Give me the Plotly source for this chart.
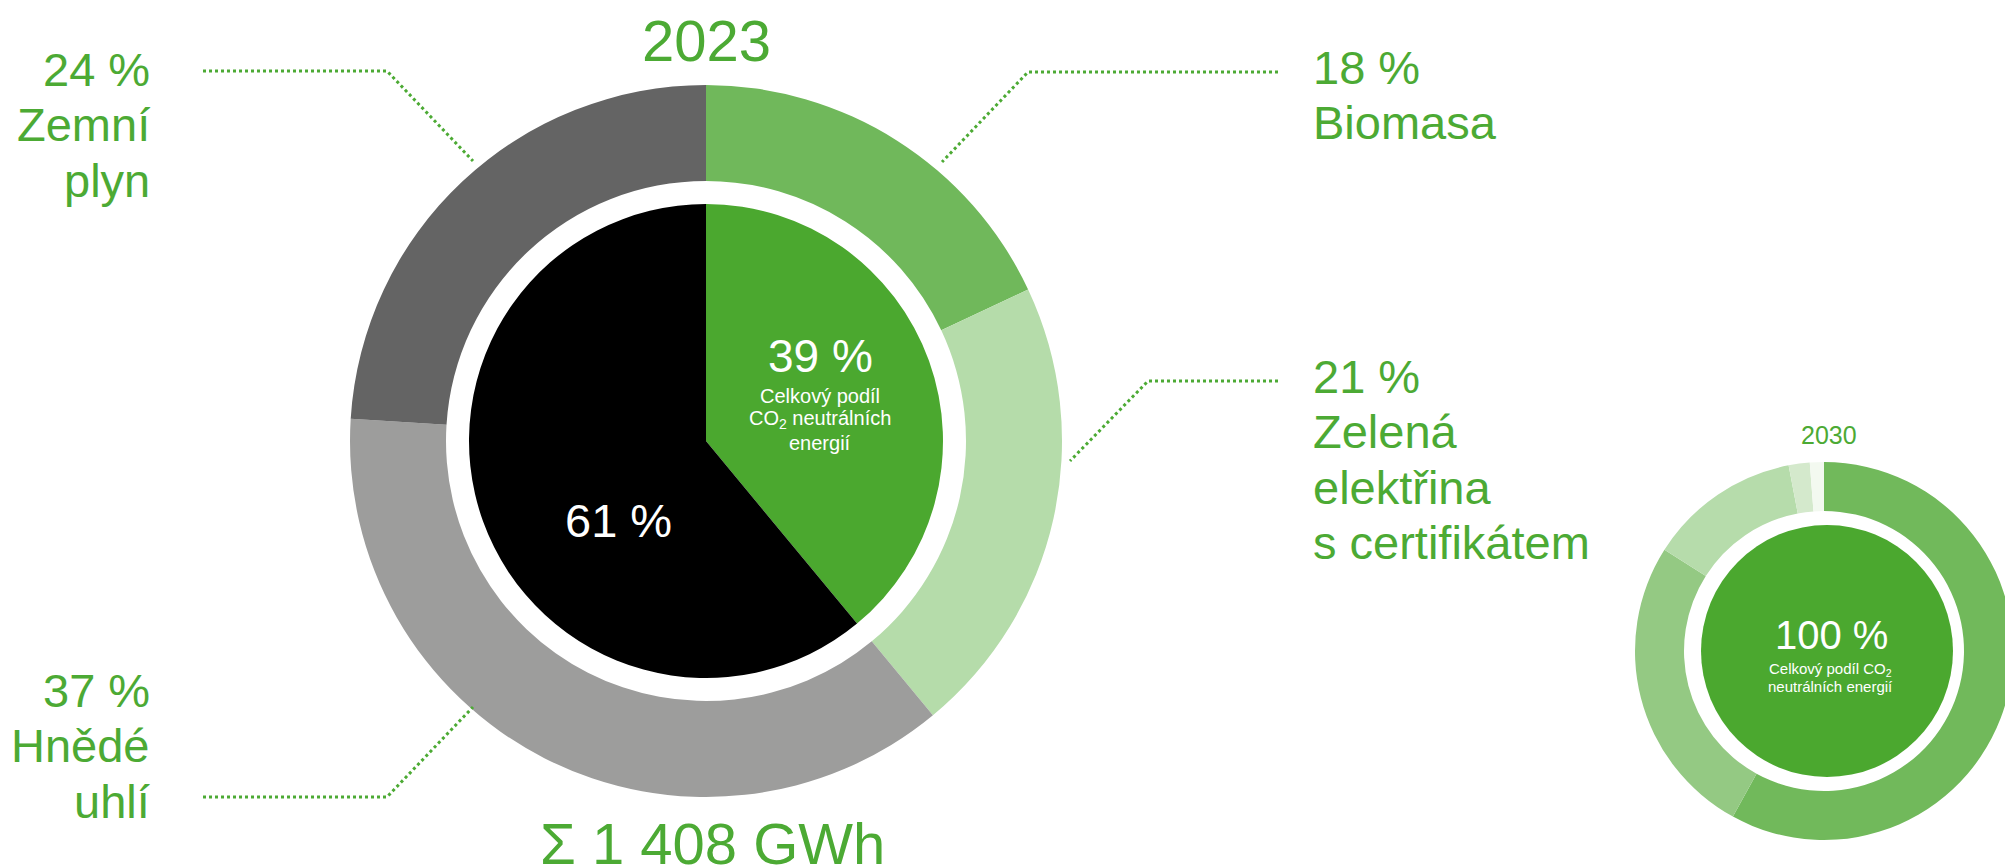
import plotly.graph_objects as go

# page is 2013x867; the HTML body has an 8px margin, so the figure is
# made 8px smaller and every page coordinate is shifted by that offset
PAGE_W, PAGE_H = 2013, 867
OFF = 8
W, H = PAGE_W - OFF, PAGE_H - OFF
FONT = "Liberation Sans, Arial, sans-serif"
GREEN_TXT = "#4caa34"

# ---- data: 2023 energy mix (outer ring) ----
mix_2023_labels = ["Biomasa", "Zelená\nelektřina\ns certifikátem", "Hnědé\nuhlí", "Zemní\nplyn"]
mix_2023_values = [18, 21, 37, 24]
mix_2023_colors = ["#70b85b", "#b5dcaa", "#9d9d9c", "#646464"]

# ---- data: 2023 CO2 neutral share (inner pie) ----
co2_2023_labels = ["CO2 neutrální", "Ostatní"]
co2_2023_values = [39, 61]
co2_2023_colors = ["#4ba82f", "#000000"]

# ---- data: 2030 mix (small ring, estimated) ----
mix_2030_labels = ["Zdroj A", "Zdroj B", "Zdroj C", "Zdroj D", "Zdroj E"]
mix_2030_values = [58, 26, 13, 1.8, 1.2]
mix_2030_colors = ["#71b95b", "#94c983", "#b6dcab", "#d4e9cc", "#f3f9f0"]
co2_2030_values = [100]

year_main = "2023"
year_small = "2030"
total_main = "Σ 1 408 GWh"


def fx(x):
    return (x - OFF) / W


def fy(y):
    return 1 - (y - OFF) / H


def dom(cx, cy, r):
    return dict(x=[max(0, fx(cx - r)), min(1, fx(cx + r))],
                y=[max(0, fy(cy + r)), min(1, fy(cy - r))])


def txt(s, x, y, size, color, xanchor="center"):
    return dict(text=s, x=fx(x), y=fy(y), xref="paper", yref="paper",
                xanchor=xanchor, yanchor="middle", showarrow=False,
                borderpad=0, borderwidth=0,
                font=dict(size=size, color=color, family=FONT))


fig = go.Figure()

# main donut
MCX, MCY = 706, 441
fig.add_trace(go.Pie(values=mix_2023_values, labels=mix_2023_labels,
                     marker=dict(colors=mix_2023_colors, line=dict(width=0)),
                     hole=260 / 356, sort=False, direction="clockwise", rotation=0,
                     textinfo="none", hoverinfo="skip", domain=dom(MCX, MCY, 356)))
fig.add_trace(go.Pie(values=co2_2023_values, labels=co2_2023_labels,
                     marker=dict(colors=co2_2023_colors, line=dict(width=0)),
                     sort=False, direction="clockwise", rotation=0,
                     textinfo="none", hoverinfo="skip", domain=dom(MCX, MCY, 237)))

# small donut
SCX, SCY = 1824, 651
fig.add_trace(go.Pie(values=mix_2030_values, labels=mix_2030_labels,
                     marker=dict(colors=mix_2030_colors, line=dict(width=0)),
                     hole=140 / 189, sort=False, direction="clockwise", rotation=0,
                     textinfo="none", hoverinfo="skip", domain=dom(SCX, SCY, 189)))
fig.add_trace(go.Pie(values=co2_2030_values, labels=["CO2 neutrální"],
                     marker=dict(colors=["#4ba82f"], line=dict(width=0)),
                     sort=False, direction="clockwise", rotation=0,
                     textinfo="none", hoverinfo="skip", domain=dom(SCX + 3, SCY, 126)))

ann = []
# outer labels: (x, first line y, anchor)
label_pos = {
    "Biomasa": (1313, 67, "left"),
    "Zelená\nelektřina\ns certifikátem": (1313, 376, "left"),
    "Hnědé\nuhlí": (150, 690, "right"),
    "Zemní\nplyn": (150, 69, "right"),
}
LINE = 55.5
for name, val in zip(mix_2023_labels, mix_2023_values):
    x, y0, anc = label_pos[name]
    lines = [f"{val} %"] + name.split("\n")
    for i, ln in enumerate(lines):
        ann.append(txt(ln, x, y0 + i * LINE, 47, GREEN_TXT, anc))

# leader lines
leaders = [
    [(203, 71), (387, 71), (473, 161)],
    [(203, 797), (387, 797), (473, 707)],
    [(1278, 72), (1028, 72), (942, 162)],
    [(1278, 381), (1148, 381), (1070, 461)],
]
shapes = []
for pts in leaders:
    path = "M " + " L ".join(f"{fx(x):.5f},{fy(y):.5f}" for x, y in pts)
    shapes.append(dict(type="path", path=path, xref="paper", yref="paper",
                       line=dict(color=GREEN_TXT, width=3, dash="dot")))

# titles
ann.append(txt(year_main, 706, 40, 58, GREEN_TXT))
ann.append(txt(total_main, 712, 843, 58, GREEN_TXT))

# main center texts
ann.append(txt(f"{co2_2023_values[0]} %", 820, 356, 46, "white"))
for i, ln in enumerate(["Celkový podíl", "CO<sub>2</sub> neutrálních", "energií"]):
    ann.append(txt(ln, 820, 396 + i * 23.5, 20, "white"))
ann.append(txt(f"{co2_2023_values[1]} %", 618, 520, 47, "white"))

# small donut texts
ann.append(txt(year_small, 1829, 435, 25, GREEN_TXT))
ann.append(txt(f"{co2_2030_values[0]} %", 1831, 635, 40, "white"))
ann.append(txt("Celkový podíl CO<sub>2</sub>", 1830, 669, 15, "white"))
ann.append(txt("neutrálních energií", 1830, 686, 15, "white"))

fig.update_layout(width=W, height=H, margin=dict(l=0, r=0, t=0, b=0, pad=0),
                  paper_bgcolor="white", plot_bgcolor="white", showlegend=False,
                  annotations=ann, shapes=shapes, font=dict(family=FONT))

fig.write_html("out.html", config={"displayModeBar": False})
